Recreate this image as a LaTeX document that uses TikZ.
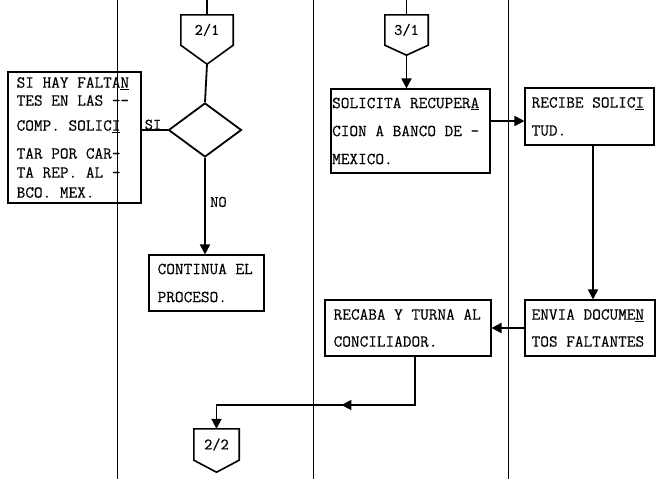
\documentclass[tikz,border=0pt]{standalone}
\usepackage{fontspec}
\newfontfamily\tw[FakeBold=0.3]{Latin Modern Mono}
\usetikzlibrary{shapes.geometric,arrows.meta,decorations.markings,calc}
\begin{document}
\begin{tikzpicture}[x=1pt,y=-1pt,
  lane/.style={line width=0.8pt},
  box/.style={draw,line width=1.1pt,rectangle,inner sep=0pt},
  txt/.style={font=\tw\fontsize{16.8}{28}\selectfont, align=left, inner sep=0pt, anchor=west},
  flow/.style={line width=1.8pt},
  tip/.style={-{Triangle[length=10pt,width=10pt]}},
  conn/.style={inner sep=0pt, font=\tw\fontsize{16}{18}\selectfont},
  connline/.style={line width=1.6pt, line join=miter},
  lbl/.style={font=\tw\fontsize{16}{18}\selectfont, inner sep=1pt},
]
\useasboundingbox (0,0) rectangle (658,479);

% lanes
\draw[lane] (117,0) -- (117,479);
\draw[lane] (313,0) -- (313,479);
\draw[lane] (508,0) -- (508,479);

% boxes
\node[box, minimum width=133pt, minimum height=131pt] (left) at (74.5,137.5) {};
\node[box, minimum width=115pt, minimum height=56pt] (cont) at (206.5,283) {};
\node[box, minimum width=159pt, minimum height=84pt] (sol) at (410.5,131) {};
\node[box, minimum width=129pt, minimum height=57pt] (rec) at (589.5,116.5) {};
\node[box, minimum width=166pt, minimum height=56pt] (rcb) at (408,328) {};
\node[box, minimum width=130pt, minimum height=56pt] (env) at (590,328) {};

% texts
\node[txt, font=\tw\fontsize{16.8}{18}\selectfont] (tleft) at ([xshift=9pt]left.west)
  {SI HAY FALTA\underline{N}\\TES EN LAS -{}-\\[7pt]COMP. SOLIC\underline{I}\\[10pt]TAR POR CAR-\\[1pt]TA REP. AL -\\[2pt]BCO. MEX.};
\node[txt] (tcont) at ([xshift=9pt]cont.west) {CONTINUA EL\\PROCESO.};
\node[txt] (tsol) at ([xshift=1.5pt]sol.west) {SOLICITA RECUPER\underline{A}\\CION A BANCO DE -\\MEXICO.};
\node[txt] (trec) at ([xshift=7pt]rec.west) {RECIBE SOLIC\underline{I}\\TUD.};
\node[txt, font=\tw\fontsize{16.8}{27}\selectfont] (trcb) at ([xshift=9pt]rcb.west) {RECABA Y TURNA AL\\CONCILIADOR.};
\node[txt, font=\tw\fontsize{16.8}{27}\selectfont] (tenv) at ([xshift=7pt]env.west) {ENVIA DOCUME\underline{N}\\TOS FALTANTES};

% decision
\node[diamond, draw, line width=1.8pt, minimum width=73pt, minimum height=54pt, inner sep=0pt] (dec) at (205,130) {};

% connectors
\node[conn, minimum width=52pt, minimum height=30pt] (c21) at (207,30) {2/1};
\draw[connline] (c21.north west) -- (c21.north east) -- (c21.south east) -- ($(c21.south)+(0,19)$) coordinate (c21tip) -- (c21.south west) -- cycle;
\node[conn, minimum width=43pt, minimum height=30pt] (c31) at (406.5,30) {3/1};
\draw[connline] (c31.north west) -- (c31.north east) -- (c31.south east) -- ($(c31.south)+(0,10)$) coordinate (c31tip) -- (c31.south west) -- cycle;
\node[conn, minimum width=45pt, minimum height=31pt] (c22) at (216.5,444.5) {2/2};
\draw[connline] (c22.north west) -- (c22.north east) -- (c22.south east) -- ($(c22.south)+(0,12)$) coordinate (c22tip) -- (c22.south west) -- cycle;

% flows
\coordinate (top21) at (207,0);
\coordinate (top31) at (406.5,0);
\draw[flow] (top21) -- (c21.north);
\draw[flow] (c21tip) -- (dec.north);
\draw[flow] (left.east |- dec.west) -- (dec.west);
\node[lbl, anchor=south] (si) at (153,131) {SI};
\draw[flow,tip] (dec.south) -- (dec.south |- cont.north);
\node[lbl, anchor=west] (no) at (209,202) {NO};
\draw[flow] (top31) -- (c31.north);
\draw[flow,tip] (c31tip) -- (c31tip |- sol.north);
\draw[flow,tip] (sol.east |- 0,121) -- (rec.west |- 0,121);
\draw[flow,tip] (rec.south -| 593,0) -- (env.north -| 593,0);
\draw[flow,tip] (env.west) -- (rcb.east);
\coordinate (bend) at (415,405);
\draw[flow,tip, decoration={markings, mark=at position 122pt with {\arrow{Triangle[length=10pt,width=10pt]}}}, postaction={decorate}]
  (bend |- rcb.south) -- (bend) -| (c22.north);
\end{tikzpicture}
\end{document}
